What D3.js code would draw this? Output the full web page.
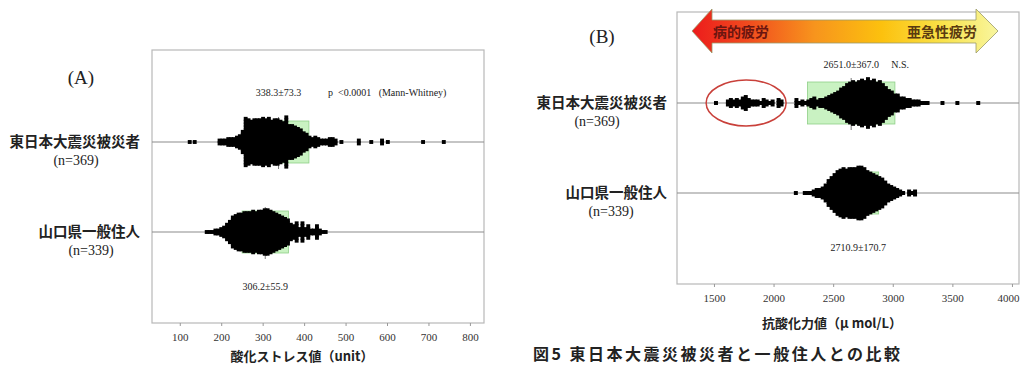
<!DOCTYPE html>
<html>
<head>
<meta charset="utf-8">
<script src="https://cdn.jsdelivr.net/npm/d3@7"></script>
<style>
  body { margin: 0; background: #fff; }
  svg { display: block; }
</style>
</head>
<body>
<svg id="chart" width="1020" height="366"></svg>
<script>
// ---- Data -------------------------------------------------------------
const groups = ["東日本大震災被災者", "山口県一般住人"];
const groupN = [369, 339];

// (A) oxidative stress (unit): dot-plot bin centres and number of dots per bin
const stressBins1 = [124, 136, 196, 203, 210, 217, 224, 231, 238, 245, 252, 259, 266, 273, 280, 287, 294, 301, 308, 315,
  322, 329, 336, 343, 350, 357, 364, 371, 378, 385, 392, 399, 406, 413, 420, 427, 434, 441, 448, 455,
  462, 469, 476, 490, 532, 562, 588, 602, 687, 737];
const stressCounts1 = [1, 1, 2, 2, 2, 3, 3, 3, 4, 5, 8, 17, 16, 15, 16, 16, 16, 17, 16, 17,
  15, 16, 16, 15, 14, 18, 12, 12, 11, 10, 9, 7, 6, 4, 3, 4, 3, 2, 2, 2,
  3, 3, 2, 1, 2, 1, 2, 1, 1, 1];
const stressBins2 = [165, 172, 179, 186, 193, 200, 207, 214, 221, 228, 235, 242, 249, 256, 263, 270, 277, 284, 291, 298,
  305, 312, 319, 326, 333, 340, 347, 354, 361, 368, 375, 382, 389, 396, 403, 410, 417, 424, 431, 438,
  445, 452];
const stressCounts2 = [1, 1, 1, 2, 2, 3, 4, 6, 8, 11, 12, 13, 13, 14, 14, 14, 15, 14, 15, 15,
  16, 16, 15, 14, 13, 12, 11, 10, 9, 6, 5, 7, 3, 7, 3, 5, 2, 2, 5, 2,
  1, 1];
const stressMean = [338.3, 306.2];
const stressSD = [73.3, 55.9];
const stressTicks = [100, 200, 300, 400, 500, 600, 700, 800];

// (B) antioxidant capacity (µmol/L): dot-plot bin centres and number of dots per bin
const antioxBins1 = [1517, 1617, 1642, 1667, 1692, 1717, 1742, 1767, 1792, 1817, 1842, 1867, 1892, 1917, 1942, 1967, 1992, 2042, 2067,
  2192, 2217, 2242, 2267, 2292, 2317, 2342, 2367, 2392, 2417, 2442, 2467, 2492, 2517, 2542, 2567, 2592, 2617, 2642, 2667,
  2692, 2717, 2742, 2767, 2792, 2817, 2842, 2867, 2892, 2917, 2942, 2967, 2992, 3017, 3042, 3067, 3092, 3117, 3142, 3167,
  3192, 3217, 3242, 3267, 3292, 3417, 3542, 3717];
const antioxCounts1 = [1, 2, 3, 2, 3, 2, 4, 5, 3, 2, 2, 2, 1, 3, 2, 1, 2, 3, 2,
  3, 1, 2, 1, 2, 3, 4, 2, 3, 3, 4, 5, 6, 7, 8, 10, 11, 13, 14, 15,
  14, 15, 16, 15, 17, 15, 16, 14, 15, 13, 11, 9, 8, 6, 6, 4, 4, 3, 3, 2,
  2, 2, 1, 1, 1, 1, 1, 1];
const antioxBins2 = [2187, 2262, 2287, 2312, 2337, 2362, 2387, 2412, 2437, 2462, 2487, 2512, 2537, 2562, 2587, 2612, 2637, 2662, 2687, 2712,
  2737, 2762, 2787, 2812, 2837, 2862, 2887, 2912, 2937, 2962, 2987, 3012, 3037, 3062, 3087, 3137, 3162, 3187];
const antioxCounts2 = [1, 1, 1, 1, 2, 3, 3, 4, 6, 9, 11, 13, 15, 16, 17, 16, 17, 17, 17, 18,
  18, 17, 15, 14, 13, 12, 11, 10, 8, 6, 5, 4, 3, 2, 1, 2, 1, 2];
const antioxMean = [2651.0, 2710.9];
const antioxSD = [367.0, 170.7];
const antioxTicks = [1500, 2000, 2500, 3000, 3500, 4000];

// ---- Drawing ----------------------------------------------------------
const svg = d3.select("#chart");
const serif = "'Liberation Serif', 'DejaVu Serif', serif";
const gothic = "'Noto Sans CJK JP', 'Noto Sans', sans-serif";

function drawPanel(p) {
  const x = d3.scaleLinear().domain(p.domain).range([p.left, p.right]);
  const y = d3.scalePoint().domain(groups).range(p.rows);
  const g = svg.append("g");

  // plot frame
  g.append("rect")
    .attr("x", p.left).attr("y", p.top)
    .attr("width", p.right - p.left).attr("height", p.bottom - p.top)
    .attr("fill", "none").attr("stroke", "#b8b8b8").attr("stroke-width", 1.2);

  // group baselines
  g.selectAll("line.base").data(groups).join("line")
    .attr("x1", p.left).attr("x2", p.right)
    .attr("y1", d => y(d)).attr("y2", d => y(d))
    .attr("stroke", "#8c8c8c").attr("stroke-width", 1.2);

  // mean ± SD boxes with a thin mean marker
  groups.forEach((grp, i) => {
    const lo = p.mean[i] - p.sd[i], hi = p.mean[i] + p.sd[i];
    g.append("rect")
      .attr("x", x(lo)).attr("width", x(hi) - x(lo))
      .attr("y", y(grp) - 21).attr("height", 42)
      .attr("fill", "#c9f2c2").attr("stroke", "#8fcf88").attr("stroke-width", 0.8);
    g.append("line")
      .attr("x1", x(p.mean[i])).attr("x2", x(p.mean[i]))
      .attr("y1", y(grp) - 25).attr("y2", y(grp) + 27)
      .attr("stroke", "#555").attr("stroke-width", 0.8);
  });

  // dots (small squares), stacked symmetrically about each baseline
  const size = p.step + 1;
  groups.forEach((grp, i) => {
    const bins = p.bins[i], counts = p.counts[i];
    const dots = [];
    bins.forEach((v, k) => {
      const c = counts[k];
      for (let j = 0; j < c; j++) dots.push({ v, off: (j - (c - 1) / 2) * p.step });
    });
    g.append("g").selectAll("rect").data(dots).join("rect")
      .attr("x", d => x(d.v) - size / 2)
      .attr("y", d => y(grp) + d.off - size / 2)
      .attr("width", size).attr("height", size)
      .attr("fill", "#000");
  });

  // x axis
  const ax = g.append("g")
    .attr("transform", `translate(0,${p.bottom})`)
    .call(d3.axisBottom(x).tickValues(p.ticks).tickSize(3).tickPadding(7).tickFormat(d3.format("d")));
  ax.select(".domain").remove();
  ax.selectAll(".tick line").attr("stroke", "#999");
  ax.selectAll(".tick text")
    .attr("font-family", serif).attr("font-size", 11).attr("fill", "#333");
  // keep the last label inside the drawing area
  ax.selectAll(".tick text").filter(d => x(d) + 12 > 1020)
    .attr("text-anchor", "end").attr("x", d => 1019 - x(d));

  // axis title
  g.append("text")
    .attr("x", p.titleX).attr("y", p.titleY)
    .attr("text-anchor", "middle")
    .attr("font-family", gothic).attr("font-weight", 700).attr("font-size", 13)
    .attr("fill", "#222")
    .text(p.title);

  // group labels
  groups.forEach((grp, i) => {
    g.append("text")
      .attr("x", p.labelRight).attr("y", y(grp) + 5)
      .attr("text-anchor", "end")
      .attr("font-family", gothic).attr("font-weight", 700).attr("font-size", 14.5)
      .attr("fill", "#222")
      .text(grp);
    g.append("text")
      .attr("x", p.nX[i]).attr("y", y(grp) + 23)
      .attr("text-anchor", "middle")
      .attr("font-family", serif).attr("font-size", 14)
      .attr("fill", "#222")
      .text(`(n=${groupN[i]})`);
  });

  // mean ± SD annotations
  groups.forEach((grp, i) => {
    g.append("text")
      .attr("x", x(p.mean[i])).attr("y", p.statY[i])
      .attr("text-anchor", "middle")
      .attr("font-family", serif).attr("font-size", 10).attr("fill", "#222")
      .text(`${p.mean[i].toFixed(1)}±${p.sd[i].toFixed(1)}`);
  });

  // panel letter
  g.append("text")
    .attr("x", p.letterX).attr("y", p.letterY)
    .attr("text-anchor", "middle")
    .attr("font-family", serif).attr("font-size", 19).attr("fill", "#222")
    .text(p.letter);

  return { g, x, y };
}

// Panel A: oxidative stress
const A = drawPanel({
  domain: [33, 834], left: 152, right: 484, top: 50, bottom: 323,
  rows: [142, 232], step: 2.9,
  bins: [stressBins1, stressBins2], counts: [stressCounts1, stressCounts2],
  mean: stressMean, sd: stressSD, ticks: stressTicks,
  title: "酸化ストレス値（unit）", titleX: 302, titleY: 361,
  labelRight: 140, nX: [76, 91], statY: [96, 290],
  letter: "(A)", letterX: 81, letterY: 84
});
A.g.append("text")
  .attr("x", 328).attr("y", 96)
  .attr("font-family", serif).attr("font-size", 10).attr("fill", "#222")
  .attr("xml:space", "preserve")
  .text("p  <0.0001   (Mann-Whitney)");

// Panel B: antioxidant capacity
const B = drawPanel({
  domain: [1190, 4059], left: 677, right: 1019, top: 12, bottom: 284,
  rows: [103, 193], step: 2.98,
  bins: [antioxBins1, antioxBins2], counts: [antioxCounts1, antioxCounts2],
  mean: antioxMean, sd: antioxSD, ticks: antioxTicks,
  title: "抗酸化力値（μ mol/L）", titleX: 832, titleY: 328,
  labelRight: 667, nX: [597, 611], statY: [68, 251],
  letter: "(B)", letterX: 602, letterY: 43
});
B.g.append("text")
  .attr("x", B.x(antioxMean[0]) + 40).attr("y", 68)
  .attr("font-family", serif).attr("font-size", 10).attr("fill", "#222")
  .text("N.S.");

// Fatigue direction arrow
const defs = svg.append("defs");
const grad = defs.append("linearGradient").attr("id", "fatigue")
  .attr("x1", "0%").attr("x2", "100%").attr("y1", "0%").attr("y2", "0%");
[["0%", "#ec1c1c"], ["18%", "#f14a1e"], ["40%", "#f7941d"], ["62%", "#fcc10e"], ["82%", "#f9e24a"], ["100%", "#f8f6a0"]]
  .forEach(([o, c]) => grad.append("stop").attr("offset", o).attr("stop-color", c));
const arrow = d3.path();
arrow.moveTo(692, 31);
arrow.lineTo(712, 9);
arrow.lineTo(712, 20);
arrow.lineTo(976, 20);
arrow.lineTo(976, 9);
arrow.lineTo(998, 31);
arrow.lineTo(976, 53);
arrow.lineTo(976, 43);
arrow.lineTo(712, 43);
arrow.lineTo(712, 53);
arrow.closePath();
svg.append("path").attr("d", arrow.toString())
  .attr("fill", "url(#fatigue)").attr("stroke", "#9a9a6a").attr("stroke-width", 0.8);
svg.append("text").attr("x", 713).attr("y", 37)
  .attr("font-family", gothic).attr("font-weight", 700).attr("font-size", 14)
  .attr("fill", "#6b1510").text("病的疲労");
svg.append("text").attr("x", 977).attr("y", 37).attr("text-anchor", "end")
  .attr("font-family", gothic).attr("font-weight", 700).attr("font-size", 14)
  .attr("fill", "#5a3a10").text("亜急性疲労");

// Highlight of the low-capacity cluster
svg.append("ellipse")
  .attr("cx", B.x(1770)).attr("cy", B.y(groups[0]))
  .attr("rx", 40).attr("ry", 23)
  .attr("fill", "none").attr("stroke", "#c9403a").attr("stroke-width", 1.5);

// Figure caption
svg.append("text").attr("x", 533).attr("y", 360)
  .attr("font-family", gothic).attr("font-weight", 700).attr("font-size", 16)
  .attr("fill", "#222")
  .attr("textLength", 367).attr("lengthAdjust", "spacing")
  .text("図5 東日本大震災被災者と一般住人との比較");
</script>
</body>
</html>
